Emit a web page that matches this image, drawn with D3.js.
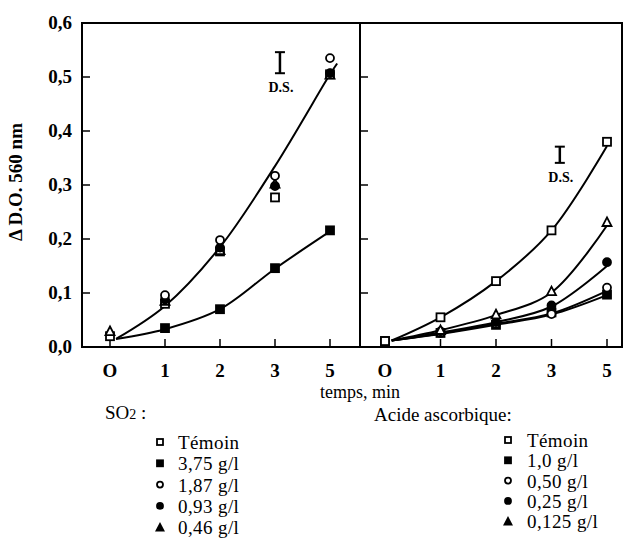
<!DOCTYPE html>
<meta charset="utf-8">
<style>
body { margin: 0; background: #fff; }
text { font-family: "Liberation Serif", "Times New Roman", serif; fill: #000; }
.frame { fill: none; stroke: #000; stroke-width: 2; }
.fit { fill: none; stroke: #000; stroke-width: 2; }
</style>
<body>
<script src="https://cdn.jsdelivr.net/npm/d3@7"></script>
<script>

// time categories (plotted evenly spaced) and y ticks
var timeLabels = ["O", "1", "2", "3", "5"];
var yTicks = [0, 0.1, 0.2, 0.3, 0.4, 0.5, 0.6];

// SO2 panel, measured points (null = no marker)
var so2Temoin = [0.020, 0.080, 0.177, 0.277, 0.505];
var so2_375   = [null, 0.035, 0.070, 0.146, 0.216];
var so2_187   = [null, 0.096, 0.198, 0.317, 0.535];
var so2_093   = [null, 0.088, 0.184, 0.298, 0.507];
var so2_046   = [0.030, 0.086, 0.180, 0.303, 0.505];

// SO2 fitted curves
var so2FitIdxUp  = [0.11, 1, 2, 3, 4, 4.13];
var so2FitUp     = [0.015, 0.076, 0.185, 0.335, 0.505, 0.525];
var so2FitIdxLow = [0.11, 1, 2, 3, 4];
var so2FitLow    = [0.015, 0.033, 0.070, 0.145, 0.214];

// ascorbic acid panel, measured points
var aaTemoin = [0.011, 0.055, 0.122, 0.216, 0.380];
var aa10     = [0.011, 0.026, 0.041, 0.064, 0.097];
var aa050    = [null, 0.026, 0.043, 0.061, 0.110];
var aa025    = [null, 0.029, 0.046, 0.077, 0.157];
var aa0125   = [null, 0.032, 0.061, 0.104, 0.232];

// ascorbic acid fitted curves
var aaFitIdx     = [0.12, 1, 2, 3, 4];
var aaFitTemoin  = [0.012, 0.055, 0.122, 0.216, 0.372];
var aaFit0125    = [0.012, 0.031, 0.059, 0.101, 0.225];
var aaFit025     = [0.012, 0.027, 0.046, 0.075, 0.150];
var aaFit050     = [0.012, 0.025, 0.043, 0.062, 0.104];
var aaFit10      = [0.012, 0.024, 0.041, 0.060, 0.096];

// D.S. bars: [time index, low, high]
var dsLeft  = [3.09, 0.507, 0.546];
var dsRight = [3.15, 0.341, 0.371];

var so2Labels = ["Témoin", "3,75 g/l", "1,87 g/l", "0,93 g/l", "0,46 g/l"];
var aaLabels  = ["Témoin", "1,0 g/l", "0,50 g/l", "0,25 g/l", "0,125 g/l"];
var symbols   = ["openSquare", "square", "openCircle", "circle", "triangle"];

var width = 633, height = 543;
var svg = d3.select("body").append("svg")
    .attr("width", width)
    .attr("height", height);

// scales
var y = d3.scaleLinear().domain([0, 0.6]).range([347, 23]);
var xL = d3.scaleLinear().domain([0, 4]).range([110, 330]);
var xR = d3.scaleLinear().domain([0, 4]).range([385, 607]);

var leftX = 82, midX = 360, rightX = 622;

// frame
svg.append("rect").attr("class", "frame")
    .attr("x", leftX).attr("y", y(0.6))
    .attr("width", rightX - leftX).attr("height", y(0) - y(0.6));
svg.append("line").attr("class", "frame")
    .attr("x1", midX).attr("x2", midX).attr("y1", y(0.6)).attr("y2", y(0));

// y ticks (inward) on both panels
[leftX, midX].forEach(function(x0) {
  svg.selectAll(null).data(yTicks.slice(1, 6)).enter().append("line")
      .attr("x1", x0).attr("x2", x0 + 8)
      .attr("y1", function(d) { return y(d); })
      .attr("y2", function(d) { return y(d); })
      .attr("stroke", "#000").attr("stroke-width", 1.5);
});

// y tick labels
svg.selectAll(".ylab").data(yTicks).enter().append("text")
    .attr("class", "ylab")
    .attr("x", 72).attr("y", function(d) { return y(d) + 6; })
    .attr("text-anchor", "end")
    .style("font-size", "19px").style("font-weight", "bold")
    .text(function(d) { return d3.format(".1f")(d).replace(".", ","); });

// x ticks and labels
[xL, xR].forEach(function(xs) {
  svg.selectAll(null).data(timeLabels).enter().append("line")
      .attr("x1", function(d, i) { return xs(i); })
      .attr("x2", function(d, i) { return xs(i); })
      .attr("y1", y(0)).attr("y2", y(0) - 8)
      .attr("stroke", "#000").attr("stroke-width", 1.5);
  svg.selectAll(null).data(timeLabels).enter().append("text")
      .attr("x", function(d, i) { return xs(i); })
      .attr("y", 377)
      .attr("text-anchor", "middle")
      .style("font-size", "19px").style("font-weight", "bold")
      .text(function(d) { return d; });
});

// axis titles
svg.append("text")
    .attr("transform", "translate(22,182) rotate(-90)")
    .attr("text-anchor", "middle")
    .style("font-size", "19px").style("font-weight", "bold")
    .text("\u0394 D.O. 560 nm");

svg.append("text")
    .attr("x", midX).attr("y", 398)
    .attr("text-anchor", "middle")
    .style("font-size", "18px")
    .text("temps, min");

// fitted curves
function drawFit(xs, idx, vals) {
  var line = d3.line()
      .x(function(d) { return xs(d[0]); })
      .y(function(d) { return y(d[1]); })
      .curve(d3.curveCatmullRom.alpha(0.5));
  svg.append("path").attr("class", "fit")
      .attr("d", line(d3.zip(idx, vals)));
}
drawFit(xL, so2FitIdxUp, so2FitUp);
drawFit(xL, so2FitIdxLow, so2FitLow);
drawFit(xR, aaFitIdx, aaFitTemoin);
drawFit(xR, aaFitIdx, aaFit0125);
drawFit(xR, aaFitIdx, aaFit025);
drawFit(xR, aaFitIdx, aaFit050);
drawFit(xR, aaFitIdx, aaFit10);

// marker drawing
function marker(g, type, cx, cy, s, solidTri) {
  if (type == "openSquare" || type == "square") {
    g.append("rect")
        .attr("x", cx - s / 2).attr("y", cy - s / 2)
        .attr("width", s).attr("height", s)
        .attr("fill", type == "square" ? "#000" : "#fff")
        .attr("stroke", "#000").attr("stroke-width", 1.8);
  } else if (type == "openCircle" || type == "circle") {
    g.append("circle")
        .attr("cx", cx).attr("cy", cy).attr("r", s / 2)
        .attr("fill", type == "circle" ? "#000" : "#fff")
        .attr("stroke", "#000").attr("stroke-width", 1.8);
  } else {
    var h = s * 0.95;
    g.append("path")
        .attr("d", "M" + cx + "," + (cy - h / 2) + "L" + (cx + s / 2) + "," + (cy + h / 2) +
              "L" + (cx - s / 2) + "," + (cy + h / 2) + "Z")
        .attr("fill", solidTri ? "#000" : "#fff")
        .attr("stroke", "#000").attr("stroke-width", 1.8);
  }
}

function drawSeries(xs, vals, type) {
  var g = svg.append("g");
  vals.forEach(function(v, i) {
    if (v === null) return;
    marker(g, type, xs(i), y(v), type == "triangle" ? 9 : 8);
  });
}
// back-to-front order
drawSeries(xL, so2Temoin, "openSquare");
drawSeries(xL, so2_375, "square");
drawSeries(xL, so2_046, "triangle");
drawSeries(xL, so2_093, "circle");
drawSeries(xL, so2_187, "openCircle");

drawSeries(xR, aa10, "square");
drawSeries(xR, aa050, "openCircle");
drawSeries(xR, aa025, "circle");
drawSeries(xR, aa0125, "triangle");
drawSeries(xR, aaTemoin, "openSquare");

// D.S. bars
function drawDS(xs, ds) {
  var cx = xs(ds[0]);
  svg.append("line").attr("x1", cx).attr("x2", cx)
      .attr("y1", y(ds[1])).attr("y2", y(ds[2]))
      .attr("stroke", "#000").attr("stroke-width", 2.5);
  [ds[1], ds[2]].forEach(function(v) {
    svg.append("line").attr("x1", cx - 5).attr("x2", cx + 5)
        .attr("y1", y(v)).attr("y2", y(v))
        .attr("stroke", "#000").attr("stroke-width", 2);
  });
  svg.append("text")
      .attr("x", cx + 1).attr("y", y(ds[1]) + 19)
      .attr("text-anchor", "middle")
      .style("font-size", "14px").style("font-weight", "bold")
      .text("D.S.");
}
drawDS(xL, dsLeft);
drawDS(xR, dsRight);

// legends
var so2Title = svg.append("text")
    .attr("x", 105).attr("y", 419)
    .style("font-size", "19px");
so2Title.append("tspan").text("SO");
so2Title.append("tspan").style("font-size", "14px").text("2");
so2Title.append("tspan").text(" :");

svg.append("text")
    .attr("x", 374).attr("y", 421)
    .style("font-size", "19px")
    .text("Acide ascorbique:");

function drawLegend(labels, symX, txtX, y0, step) {
  var g = svg.append("g");
  labels.forEach(function(lab, i) {
    var yy = y0 + i * step;
    marker(g, symbols[i], symX, yy - 7, symbols[i] == "triangle" ? 7 : 6, true);
    g.append("text")
        .attr("x", txtX).attr("y", yy)
        .style("font-size", "19px")
        .style("letter-spacing", "0.4px")
        .text(lab);
  });
}
drawLegend(so2Labels, 160, 178, 449, 21.3);
drawLegend(aaLabels, 508, 527, 447, 20.3);

</script>
</body>
